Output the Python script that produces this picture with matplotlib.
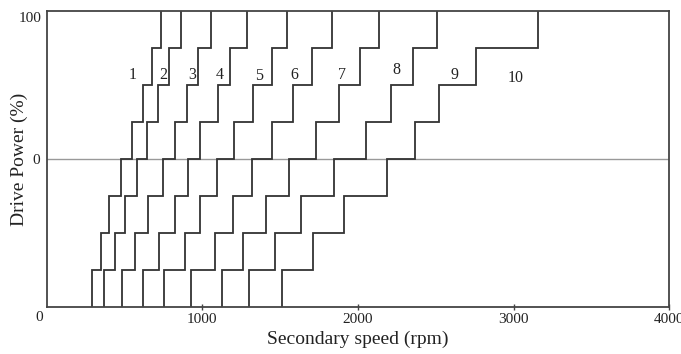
# Shift map: secondary speed vs drive power, one staircase per gear change

import matplotlib.pyplot as plt
import numpy as np

# power levels (%) where each staircase steps
power_levels = [-100, -75, -50, -25, 0, 25, 50, 75, 100]

# speed (rpm) of the vertical step at each level, one row per shift line
shift_1_2 = [293, 347, 402, 475, 546, 621, 678, 732]
shift_2_3 = [370, 439, 503, 578, 646, 717, 788, 863]
shift_3_4 = [482, 567, 653, 749, 824, 903, 974, 1056]
shift_4_5 = [617, 721, 824, 910, 985, 1099, 1178, 1285]
shift_5_6 = [756, 889, 985, 1096, 1205, 1327, 1449, 1542]
shift_6_7 = [927, 1081, 1199, 1317, 1446, 1584, 1703, 1835]
shift_7_8 = [1124, 1263, 1409, 1559, 1730, 1880, 2013, 2135]
shift_8_9 = [1298, 1467, 1634, 1848, 2049, 2210, 2351, 2509]
shift_9_10 = [1510, 1713, 1910, 2188, 2366, 2522, 2758, 3154]

# gear number labels
gear_names = ['1', '2', '3', '4', '5', '6', '7', '8', '9', '10']
gear_x = [553, 749, 932, 1113, 1364, 1591, 1899, 2249, 2623, 3015]
gear_y = [57, 57, 57, 57, 56, 57, 57, 60, 57, 55]

x_ticks = [1000, 2000, 3000, 4000]
x_tick_labels = ['1000', '2000', '3000', '4000']
y_ticks = [0]
y_tick_labels = ['0']


def staircase(speeds):
    # each speed is a vertical step from one power level up to the next
    xs = np.repeat(speeds, 2)
    ys = np.array([power_levels[0]] + list(np.repeat(power_levels[1:-1], 2)) + [power_levels[-1]])
    return xs, ys


def run():
    plt.rcParams['font.family'] = ['Liberation Serif', 'DejaVu Serif']

    fig = plt.figure(figsize=(6.81, 3.54), dpi=100)
    ax = fig.add_axes([0.0686, 0.1328, 0.9142, 0.8361])

    ax.axhline(0, color='#999999', lw=1.0, zorder=1)

    all_shifts = [shift_1_2, shift_2_3, shift_3_4, shift_4_5, shift_5_6,
                  shift_6_7, shift_7_8, shift_8_9, shift_9_10]
    for speeds in all_shifts:
        xs, ys = staircase(speeds)
        ax.plot(xs, ys, color='#333333', lw=1.3, zorder=2, solid_joinstyle='miter')

    for name, x, y in zip(gear_names, gear_x, gear_y):
        ax.text(x, y, name, ha='center', va='center', fontsize=11.5, color='#222222')

    ax.set_xlim(0, 4000)
    ax.set_ylim(-100, 100)

    ax.set_xticks(x_ticks)
    ax.set_xticklabels(x_tick_labels, fontsize=11, color='#222222')
    ax.set_yticks(y_ticks)
    ax.set_yticklabels(y_tick_labels, fontsize=11, color='#222222')

    # the origin "0" sits left of the corner, and "100" a bit below the top
    ax.annotate('0', xy=(0, 0), xycoords='axes fraction', xytext=(-8, -11),
                textcoords='offset pixels', ha='center', va='center',
                fontsize=11, color='#222222')
    ax.annotate('100', xy=(0, 1), xycoords='axes fraction', xytext=(-5, -7),
                textcoords='offset pixels', ha='right', va='center',
                fontsize=11, color='#222222')

    ax.tick_params(axis='x', direction='inout', length=5, width=1, color='#444444', pad=2)
    ax.tick_params(axis='y', length=0, pad=5)

    for spine in ax.spines.values():
        spine.set_color('#444444')
        spine.set_linewidth(1.3)

    ax.set_xlabel('Secondary speed (rpm)', fontsize=14, color='#222222', labelpad=3)
    ax.set_ylabel('Drive Power (%)', fontsize=14, color='#222222')
    ax.yaxis.set_label_coords(-0.030, 0.5)

    fig.savefig('out.png', dpi=100)


if __name__ == '__main__':
    run()
